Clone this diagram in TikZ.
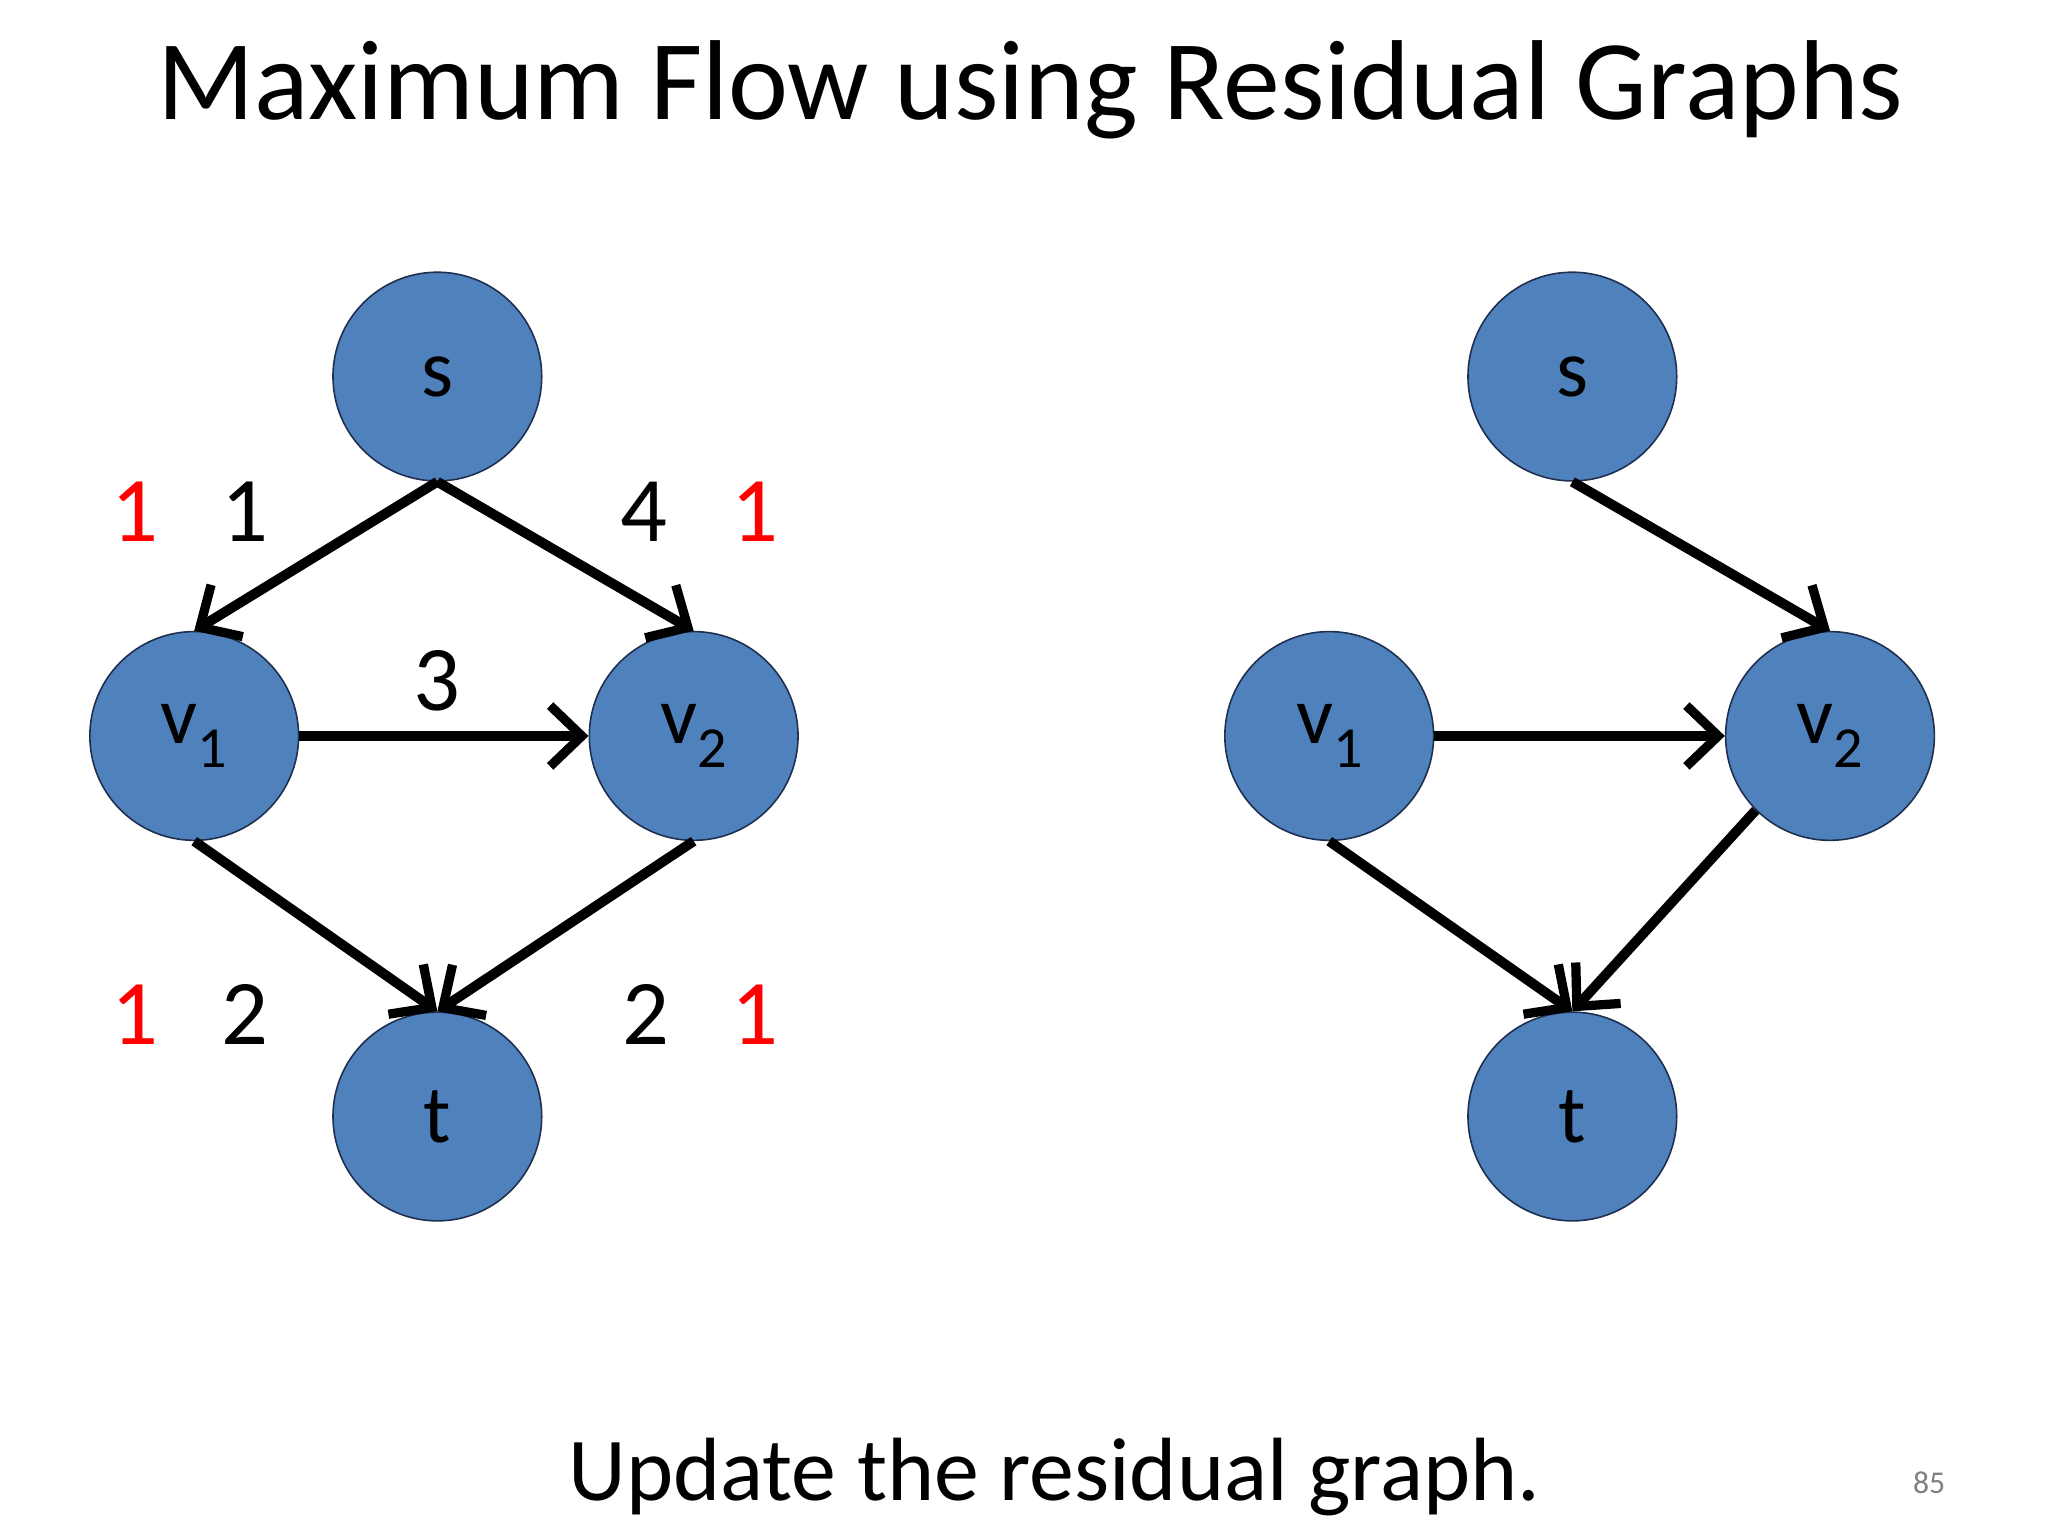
\documentclass[tikz,border=0pt]{standalone}
\usepackage{fontspec}
\setmainfont{Carlito}
\usetikzlibrary{arrows.meta}
\definecolor{nodeblue}{HTML}{4F81BD}
\definecolor{nodeedge}{HTML}{1F2F4F}
\newcommand{\vsub}[1]{v\raisebox{-0.3em}{\fontsize{44}{44}\selectfont #1}}
\begin{document}
\begin{tikzpicture}[x=1pt,y=-1pt,
  vtx/.style={circle,fill=nodeblue,draw=nodeedge,line width=1.2pt,minimum size=158pt,inner sep=0pt,font=\fontsize{62}{62}\selectfont},
  edge/.style={line width=7.5pt,-{Straight Barb[length=24pt,width=46pt,line width=7pt]}},
  lab/.style={font=\fontsize{70}{70}\selectfont},
  red/.style={lab,text=red}]
\useasboundingbox (0,0) rectangle (1550,1162.5);
\node[font=\fontsize{86}{86}\selectfont] (title) at (780,68) {Maximum Flow using Residual Graphs};
\node[font=\fontsize{68}{68}\selectfont] (foot) at (798,1118) {Update the residual graph.};
\node[font=\fontsize{24}{24}\selectfont,text=gray] (pg) at (1460,1122) {85};
% left graph
\node[vtx] (s) at (331,285) {s};
\node[vtx] (v1) at (147,557) {\vsub{1}};
\node[vtx] (v2) at (525,557) {\vsub{2}};
\node[vtx] (t) at (331,845) {t};
\draw[edge] (s.south) -- (v1.north);
\draw[edge] (s.south) -- (v2.north);
\draw[edge] (v1.east) -- (v2.west);
\draw[edge] (v1.south) -- (t.north);
\draw[edge] (v2.south) -- (t.north);
\node[red] (a1) at (102,387) {1};
\node[lab] (a2) at (185,387) {1};
\node[lab] (a3) at (487,387) {4};
\node[red] (a4) at (571,387) {1};
\node[lab] (a5) at (331,515) {3};
\node[red] (a6) at (102,768) {1};
\node[lab] (a7) at (185,768) {2};
\node[lab] (a8) at (489,768) {2};
\node[red] (a9) at (571,768) {1};
% right graph
\node[vtx] (rs) at (1190,285) {s};
\node[vtx] (rv1) at (1006,557) {\vsub{1}};
\node[vtx] (rv2) at (1385,557) {\vsub{2}};
\node[vtx] (rt) at (1190,845) {t};
\draw[edge] (rs.south) -- (rv2.north);
\draw[edge] (rv1.east) -- (rv2.west);
\draw[edge] (rv1.south) -- (rt.north);
\draw[edge] (rv2.south west) -- (rt.north);
\end{tikzpicture}
\end{document}
